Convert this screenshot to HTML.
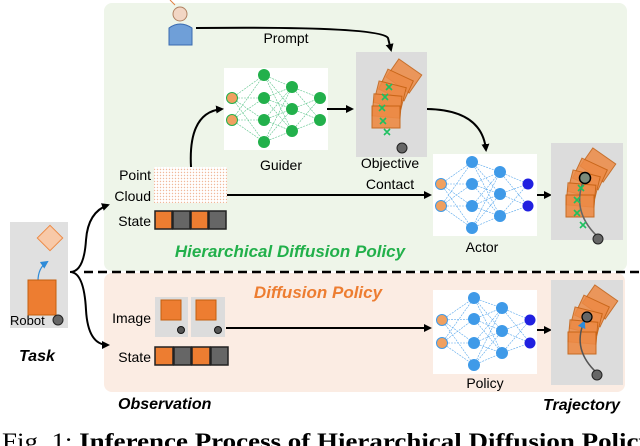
<!DOCTYPE html>
<html><head><meta charset="utf-8"><style>
html,body{margin:0;padding:0;background:#fff;width:640px;height:446px;overflow:hidden}
svg{display:block;font-family:"Liberation Sans","DejaVu Sans",sans-serif}
</style></head><body>
<svg width="640" height="446" viewBox="0 0 640 446" xmlns="http://www.w3.org/2000/svg">
<defs>
<marker id="ah" markerWidth="8" markerHeight="8" refX="6" refY="4" orient="auto" markerUnits="userSpaceOnUse"><path d="M0,0 L8,4 L0,8 Z" fill="#000"/></marker>
<marker id="ahb" markerWidth="8" markerHeight="8" refX="6" refY="4" orient="auto" markerUnits="userSpaceOnUse"><path d="M0,0 L8,4 L0,8 Z" fill="#2e8bd8"/></marker>
<pattern id="pc" width="3" height="3" patternUnits="userSpaceOnUse"><rect width="3" height="3" fill="#fff"/><circle cx="1.5" cy="1.5" r="0.7" fill="#f0b89a"/></pattern>
<g id="blk">
<rect x="-14" y="-11" width="28" height="22" fill="#ed8a45" stroke="#c45f10" transform="translate(32,2) rotate(35)" opacity="0.85"/>
<rect x="-14" y="-11" width="28" height="22" fill="#ed8a45" stroke="#c45f10" transform="translate(24,11) rotate(25)" opacity="0.85"/>
<rect x="-14" y="-11" width="28" height="22" fill="#ed8a45" stroke="#c45f10" transform="translate(18,21) rotate(14)" opacity="0.85"/>
<rect x="-14" y="-11" width="28" height="22" fill="#ed8a45" stroke="#c45f10" transform="translate(15,32) rotate(5)" opacity="0.85"/>
<rect x="-14" y="-11" width="28" height="22" fill="#ed8a45" stroke="#c45f10" transform="translate(14,43)" opacity="0.9"/>
</g>
</defs>

<rect x="104" y="3" width="523" height="268" rx="8" fill="#eef5e9"/>
<rect x="104" y="273" width="521" height="119" rx="8" fill="#fbece3"/>
<line x1="84" y1="272" x2="640" y2="272" stroke="#000" stroke-width="2.5" stroke-dasharray="9,5"/>

<rect x="10" y="222" width="58" height="106" fill="#e0e0e0"/>
<rect x="41" y="229" width="18" height="18" fill="#f8c9a8" stroke="#ed8a45" transform="rotate(45 50 238)"/>
<path d="M38,281 Q38,268 47,262" fill="none" stroke="#2e8bd8" stroke-width="1.2" marker-end="url(#ahb)"/>
<rect x="28" y="280" width="28" height="35" fill="#ed7d31" stroke="#c45f10"/>
<text x="10" y="325" font-size="13">Robot</text>
<circle cx="58" cy="320" r="5" fill="#666" stroke="#222"/>
<text x="19" y="361" font-size="16" font-weight="bold" font-style="italic">Task</text>
<path d="M70,272 Q84,272 86,240 Q88,212 108,205" fill="none" stroke="#000" stroke-width="2" marker-end="url(#ah)"/>
<path d="M70,272 Q84,272 86,310 Q88,345 108,345" fill="none" stroke="#000" stroke-width="2" marker-end="url(#ah)"/>

<line x1="175" y1="5" x2="170" y2="0" stroke="#e08040"/>
<circle cx="180" cy="14" r="7" fill="#f2d6c4" stroke="#b08060"/>
<path d="M169,45 L169,28 Q180,20 192,28 L192,45 Z" fill="#6f9fd8" stroke="#3a6ab0"/>
<path d="M196,28 Q380,26 388,38 L391,50" fill="none" stroke="#000" stroke-width="2" marker-end="url(#ah)"/>
<text x="286" y="43" font-size="14" text-anchor="middle">Prompt</text>

<rect x="224" y="68" width="104" height="82" fill="#fff"/>
<g stroke="#5bc48a" stroke-width="0.6" stroke-dasharray="2,1">
<path d="M232,98L264,75M232,98L264,98M232,98L264,120M232,98L264,142M232,120L264,75M232,120L264,98M232,120L264,120M232,120L264,142"/>
<path d="M264,75L292,87M264,75L292,109M264,75L292,131M264,98L292,87M264,98L292,109M264,98L292,131M264,120L292,87M264,120L292,109M264,120L292,131M264,142L292,87M264,142L292,109M264,142L292,131"/>
<path d="M292,87L320,98M292,87L320,120M292,109L320,98M292,109L320,120M292,131L320,98M292,131L320,120"/>
</g>
<g fill="#22b04b"><circle cx="264" cy="75" r="6"/><circle cx="264" cy="98" r="6"/><circle cx="264" cy="120" r="6"/><circle cx="264" cy="142" r="6"/><circle cx="292" cy="87" r="6"/><circle cx="292" cy="109" r="6"/><circle cx="292" cy="131" r="6"/><circle cx="320" cy="98" r="6"/><circle cx="320" cy="120" r="6"/></g>
<g fill="#f0a060" stroke="#22b04b"><circle cx="232" cy="98" r="5.5"/><circle cx="232" cy="120" r="5.5"/></g>
<text x="281" y="170" font-size="14" text-anchor="middle">Guider</text>
<line x1="327" y1="109" x2="352" y2="109" stroke="#000" stroke-width="2" marker-end="url(#ah)"/>

<rect x="356" y="52" width="71" height="105" fill="#dcdcdc"/>
<use href="#blk" transform="translate(372,74)"/>
<g stroke="#1ec060" stroke-width="1.6">
<path d="M386,84l6,6m0,-6l-6,6M382,94l6,6m0,-6l-6,6M379,105l6,6m0,-6l-6,6M380,118l6,6m0,-6l-6,6M384,129l6,6m0,-6l-6,6"/>
</g>
<circle cx="402" cy="148" r="5" fill="#666" stroke="#222"/>
<text x="390" y="168" font-size="14" text-anchor="middle">Objective</text>
<text x="390" y="189" font-size="14" text-anchor="middle">Contact</text>
<path d="M427,109 Q482,110 486,150" fill="none" stroke="#000" stroke-width="2" marker-end="url(#ah)"/>

<text x="151" y="180" font-size="14" text-anchor="end">Point</text>
<text x="151" y="201" font-size="14" text-anchor="end">Cloud</text>
<rect x="154" y="167" width="73" height="36" fill="url(#pc)"/>
<path d="M191,167 Q188,112 222,109" fill="none" stroke="#000" stroke-width="2" marker-end="url(#ah)"/>
<line x1="227" y1="195" x2="430" y2="195" stroke="#000" stroke-width="2" marker-end="url(#ah)"/>
<text x="151" y="226" font-size="14" text-anchor="end">State</text>
<g stroke="#222" stroke-width="1.5"><rect x="155" y="211" width="17" height="18" fill="#ed7d31"/><rect x="173" y="211" width="17" height="18" fill="#666"/><rect x="191" y="211" width="17" height="18" fill="#ed7d31"/><rect x="209" y="211" width="17" height="18" fill="#666"/></g>

<rect x="433" y="154" width="104" height="82" fill="#fff"/>
<g stroke="#5aa8ec" stroke-width="0.6" stroke-dasharray="2,1">
<path d="M441,184L472,162M441,184L472,184M441,184L472,206M441,184L472,228M441,206L472,162M441,206L472,184M441,206L472,206M441,206L472,228"/>
<path d="M472,162L500,172M472,162L500,194M472,162L500,216M472,184L500,172M472,184L500,194M472,184L500,216M472,206L500,172M472,206L500,194M472,206L500,216M472,228L500,172M472,228L500,194M472,228L500,216"/>
<path d="M500,172L528,184M500,172L528,206M500,194L528,184M500,194L528,206M500,216L528,184M500,216L528,206"/>
</g>
<g fill="#3f9ae8"><circle cx="472" cy="162" r="6"/><circle cx="472" cy="184" r="6"/><circle cx="472" cy="206" r="6"/><circle cx="472" cy="228" r="6"/><circle cx="500" cy="172" r="6"/><circle cx="500" cy="194" r="6"/><circle cx="500" cy="216" r="6"/></g>
<g fill="#2020e0"><circle cx="528" cy="184" r="5.5"/><circle cx="528" cy="206" r="5.5"/></g>
<g fill="#f0a060" stroke="#3f9ae8"><circle cx="441" cy="184" r="5.5"/><circle cx="441" cy="206" r="5.5"/></g>
<text x="482" y="252" font-size="14" text-anchor="middle">Actor</text>
<line x1="537" y1="195" x2="550" y2="195" stroke="#000" stroke-width="2" marker-end="url(#ah)"/>

<rect x="551" y="143" width="72" height="97" fill="#dcdcdc"/>
<use href="#blk" transform="translate(566,163)"/>
<path d="M585,177 Q570,210 597,236" fill="none" stroke="#666" stroke-width="1.5"/>
<g stroke="#1ec060" stroke-width="1.6"><path d="M578,185l6,6m0,-6l-6,6M574,197l6,6m0,-6l-6,6M574,210l6,6m0,-6l-6,6M580,222l6,6m0,-6l-6,6"/></g>
<circle cx="585" cy="178" r="5.5" fill="#7a8a7a" stroke="#000" stroke-width="1.5"/>
<circle cx="598" cy="239" r="5" fill="#666" stroke="#222"/>

<text x="290" y="257" font-size="17" font-weight="bold" font-style="italic" fill="#22b04b" text-anchor="middle">Hierarchical Diffusion Policy</text>
<text x="318" y="298" font-size="17" font-weight="bold" font-style="italic" fill="#ed7d31" text-anchor="middle">Diffusion Policy</text>

<text x="151" y="323" font-size="14" text-anchor="end">Image</text>
<rect x="155" y="297" width="33" height="40" fill="#dcdcdc"/>
<rect x="161" y="300" width="20" height="20" fill="#ed7d31" stroke="#c45f10"/>
<circle cx="181" cy="330" r="3.5" fill="#555" stroke="#111"/>
<rect x="191" y="297" width="34" height="40" fill="#dcdcdc"/>
<rect x="196" y="300" width="20" height="20" fill="#ed7d31" stroke="#c45f10"/>
<circle cx="218" cy="330" r="3.5" fill="#555" stroke="#111"/>
<line x1="226" y1="328" x2="430" y2="328" stroke="#000" stroke-width="2" marker-end="url(#ah)"/>
<text x="151" y="362" font-size="14" text-anchor="end">State</text>
<g stroke="#222" stroke-width="1.5"><rect x="155" y="347" width="18" height="18" fill="#ed7d31"/><rect x="174" y="347" width="17" height="18" fill="#666"/><rect x="192" y="347" width="18" height="18" fill="#ed7d31"/><rect x="211" y="347" width="17" height="18" fill="#666"/></g>
<text x="118" y="409" font-size="16" font-weight="bold" font-style="italic">Observation</text>

<rect x="433" y="290" width="104" height="84" fill="#fff"/>
<g stroke="#5aa8ec" stroke-width="0.6" stroke-dasharray="2,1">
<path d="M442,320L474,298M442,320L474,319M442,320L474,343M442,320L474,365M442,343L474,298M442,343L474,319M442,343L474,343M442,343L474,365"/>
<path d="M474,298L502,308M474,298L502,331M474,298L502,353M474,319L502,308M474,319L502,331M474,319L502,353M474,343L502,308M474,343L502,331M474,343L502,353M474,365L502,308M474,365L502,331M474,365L502,353"/>
<path d="M502,308L530,320M502,308L530,343M502,331L530,320M502,331L530,343M502,353L530,320M502,353L530,343"/>
</g>
<g fill="#3f9ae8"><circle cx="474" cy="298" r="6"/><circle cx="474" cy="319" r="6"/><circle cx="474" cy="343" r="6"/><circle cx="474" cy="365" r="6"/><circle cx="502" cy="308" r="6"/><circle cx="502" cy="331" r="6"/><circle cx="502" cy="353" r="6"/></g>
<g fill="#2020e0"><circle cx="530" cy="320" r="5.5"/><circle cx="530" cy="343" r="5.5"/></g>
<g fill="#f0a060" stroke="#3f9ae8"><circle cx="442" cy="320" r="5.5"/><circle cx="442" cy="343" r="5.5"/></g>
<text x="485" y="388" font-size="14" text-anchor="middle">Policy</text>
<line x1="537" y1="330" x2="550" y2="330" stroke="#000" stroke-width="2" marker-end="url(#ah)"/>

<rect x="551" y="280" width="72" height="105" fill="#dcdcdc"/>
<use href="#blk" transform="translate(568,300)"/>
<path d="M597,373 Q572,350 584,322" fill="none" stroke="#555" stroke-width="1.5" marker-end="url(#ahb)"/>
<circle cx="587" cy="317" r="5" fill="#666" stroke="#000" stroke-width="1.2"/>
<circle cx="597" cy="375" r="5" fill="#666" stroke="#222"/>
<text x="543" y="410" font-size="16" font-weight="bold" font-style="italic">Trajectory</text>

<text x="2" y="449" font-size="23" font-family="Liberation Serif,serif" textLength="650" lengthAdjust="spacingAndGlyphs">Fig. 1: <tspan font-weight="bold">Inference Process of Hierarchical Diffusion Policy</tspan></text>
</svg>
</body></html>
